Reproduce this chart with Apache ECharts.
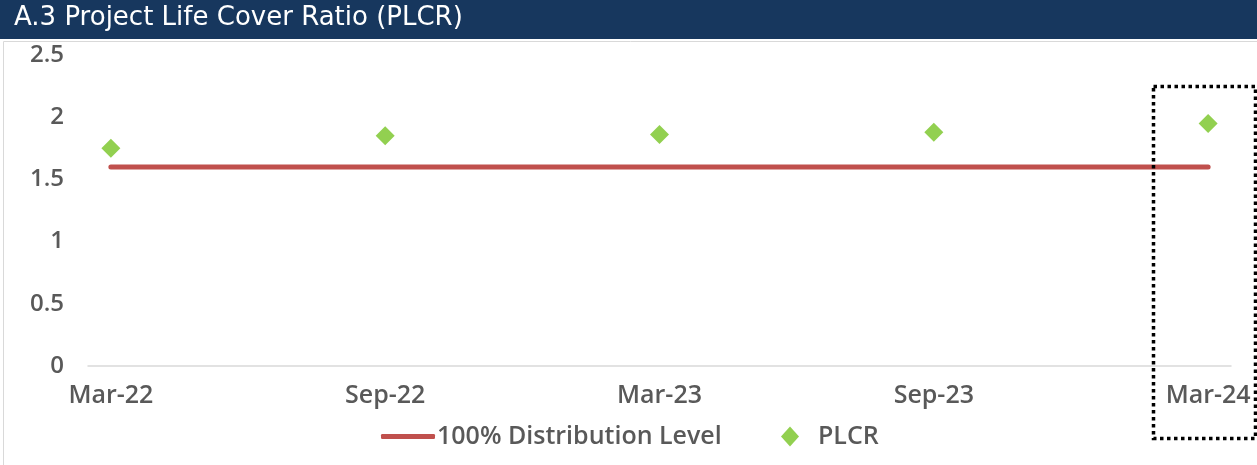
<!DOCTYPE html>
<html>
<head>
<meta charset="utf-8">
<script src="https://cdn.jsdelivr.net/npm/echarts@6/dist/echarts.min.js"></script>
<style>
  html, body { margin: 0; padding: 0; background: #fff; }
  #chart { width: 1257px; height: 465px; }
</style>
</head>
<body>
<div id="chart"></div>
<script>
// monthly slots, Mar-22 .. Mar-24
var months = ['Mar-22', 'Apr-22', 'May-22', 'Jun-22', 'Jul-22', 'Aug-22',
  'Sep-22', 'Oct-22', 'Nov-22', 'Dec-22', 'Jan-23', 'Feb-23',
  'Mar-23', 'Apr-23', 'May-23', 'Jun-23', 'Jul-23', 'Aug-23',
  'Sep-23', 'Oct-23', 'Nov-23', 'Dec-23', 'Jan-24', 'Feb-24', 'Mar-24'];
var reportDates = ['Mar-22', 'Sep-22', 'Mar-23', 'Sep-23', 'Mar-24'];
var plcrValues = [1.75, 1.85, 1.86, 1.88, 1.95];
var distLevel = [1.6, 1.6, 1.6, 1.6, 1.6];

function toMonthly(vals) {
  return months.map(function (m) {
    var i = reportDates.indexOf(m);
    return i < 0 ? null : vals[i];
  });
}

var labelColor = '#595959';
var font = 'Open Sans';

var chart = echarts.init(document.getElementById('chart'));
var option = {
  animation: false,
  graphic: [
    { type: 'rect', left: 0, top: 0, shape: { width: 1257, height: 39 }, style: { fill: '#17375e' } },
    { type: 'text', left: 14, top: 5, style: { text: 'A.3 Project Life Cover Ratio (PLCR)', fill: '#fff', font: '26px "DejaVu Sans"' } },
    { type: 'rect', left: 1, top: 39, shape: { width: 1254, height: 440 }, style: { fill: null, stroke: '#d9d9d9', lineWidth: 1 } },
    { type: 'rect', left: 1151, top: 84, shape: { width: 102, height: 352 }, style: { fill: null, stroke: '#000', lineWidth: 3.5, lineDash: [3.5, 3.5] }, z: 100 }
  ],
  grid: { left: 88, right: 26, top: 55, bottom: 99 },
  legend: [
    {
      data: ['100% Distribution Level'], left: 376, top: 419,
      icon: 'roundRect', itemWidth: 54, itemHeight: 5,
      textStyle: { color: labelColor, fontFamily: font, fontSize: 25, fontWeight: 600, padding: [0, 0, 0, -3] }
    },
    {
      data: ['PLCR'], left: 776, top: 419,
      icon: 'diamond', itemWidth: 18, itemHeight: 20,
      textStyle: { color: labelColor, fontFamily: font, fontSize: 25, fontWeight: 600, padding: [0, 0, 0, 14] }
    }
  ],
  xAxis: {
    type: 'category',
    data: months,
    boundaryGap: true,
    axisLine: { lineStyle: { color: '#d9d9d9', width: 1.5 } },
    axisTick: { length: 6, lineStyle: { color: '#d9d9d9' }, interval: function (i) { return i % 6 === 0; } },
    axisLabel: {
      interval: function (i) { return i % 6 === 0; },
      color: labelColor, fontFamily: font, fontSize: 25, fontWeight: 600, margin: 17
    }
  },
  yAxis: {
    type: 'value', min: 0, max: 2.5, interval: 0.5,
    splitLine: { show: false },
    axisLine: { show: false },
    axisTick: { show: false },
    axisLabel: { color: labelColor, fontFamily: font, fontSize: 24, fontWeight: 600, margin: 24 }
  },
  series: [
    {
      name: '100% Distribution Level', type: 'line',
      data: toMonthly(distLevel), connectNulls: true,
      showSymbol: false, symbol: 'none',
      lineStyle: { color: '#c0504d', width: 5, cap: 'round' },
      itemStyle: { color: '#c0504d' }
    },
    {
      name: 'PLCR', type: 'scatter',
      data: toMonthly(plcrValues),
      symbol: 'diamond', symbolSize: [19, 19],
      itemStyle: { color: '#92d050', opacity: 1 }
    }
  ]
};
chart.setOption(option);
</script>
</body>
</html>
